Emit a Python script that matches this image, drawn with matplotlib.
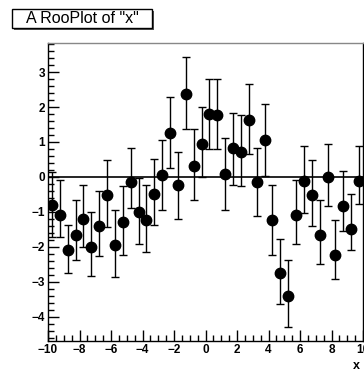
import matplotlib
matplotlib.use("Agg")
import matplotlib.pyplot as plt
import numpy as np
from matplotlib.ticker import MultipleLocator
from matplotlib.patches import Rectangle

plt.rcParams.update({"font.family": ["Liberation Sans", "DejaVu Sans"]})

# binned dataset: 40 bins of width 0.5 over [-10, 10]
BIN_CENTERS = np.arange(-9.75, 10.0, 0.5)
Y = [-0.81, -1.08, -2.09, -1.67, -1.21, -2.00, -1.39, -0.52, -1.95, -1.28,
     -0.15, -1.00, -1.22, -0.50, 0.05, 1.26, -0.23, 2.37, 0.32, 0.94,
     1.80, 1.77, 0.09, 0.82, 0.72, 1.62, -0.15, 1.05, -1.23, -2.75,
     -3.39, -1.09, -0.12, -0.53, -1.65, 0.00, -2.23, -0.83, -1.48, -0.12]
ERR_HI = [0.95, 1.00, 0.72, 1.00, 0.99, 1.00, 0.99, 1.01, 1.01, 1.02,
          0.97, 0.98, 1.00, 1.01, 1.00, 1.04, 0.93, 1.05, 1.06, 1.05,
          1.01, 1.04, 1.01, 1.00, 1.04, 1.03, 0.97, 1.05, 1.01, 0.98,
          1.01, 1.01, 1.00, 1.02, 0.98, 0.93, 1.00, 0.99, 0.98, 1.00]
ERR_LO = [0.90, 0.64, 0.67, 0.69, 0.79, 0.82, 0.87, 0.92, 0.92, 0.94,
          0.75, 0.93, 0.92, 0.87, 1.00, 0.99, 0.98, 0.99, 0.99, 0.94,
          1.01, 0.98, 1.03, 1.05, 0.98, 0.97, 0.96, 1.01, 0.99, 0.89,
          0.91, 0.84, 0.92, 0.86, 0.84, 0.83, 0.69, 0.72, 0.61, 0.64]

W, H = 364, 372
fig = plt.figure(figsize=(W / 100, H / 100), dpi=100)
ax = fig.add_axes([48 / W, 1 - 341 / H, (363 - 48) / W, (341 - 43) / H])

ax.axhline(0, color="black", lw=1.2, zorder=1)
ax.errorbar(BIN_CENTERS, Y, yerr=[ERR_LO, ERR_HI], fmt="o", color="black",
            ms=7.5, elinewidth=1.0, capsize=3, capthick=1.0, zorder=3)

ax.set_xlim(-10, 10)
ax.set_ylim(-4.69, 3.83)
ax.xaxis.set_major_locator(MultipleLocator(2))
ax.xaxis.set_minor_locator(MultipleLocator(0.5))
ax.yaxis.set_major_locator(MultipleLocator(1))
ax.yaxis.set_minor_locator(MultipleLocator(0.2))
ax.tick_params(which="both", direction="in", top=False, right=False,
               labelsize=8.5, width=1.0, pad=2)
ax.tick_params(which="major", length=8)
ax.tick_params(which="minor", length=4)
for lab in ax.get_xticklabels() + ax.get_yticklabels():
    lab.set_fontweight("bold")
for s in ax.spines.values():
    s.set_linewidth(1.0)
ax.spines["top"].set_color("#888888")

fig.text(356 / W, 1 - 366 / H, "x", fontsize=9, fontweight="bold",
         ha="center", va="center")

# title box with drop shadow
fig.patches.append(Rectangle((14 / W, 1 - 30 / H), 140 / W, 19 / H,
                             transform=fig.transFigure, facecolor="#555555",
                             edgecolor="none", zorder=1))
fig.patches.append(Rectangle((12 / W, 1 - 28 / H), 140 / W, 19 / H,
                             transform=fig.transFigure, facecolor="white",
                             edgecolor="black", lw=1.0, zorder=2))
fig.text(82 / W, 1 - 18.5 / H, 'A RooPlot of "x"', fontsize=11.5,
         ha="center", va="center", zorder=3)

fig.savefig("out.png", dpi=100)
